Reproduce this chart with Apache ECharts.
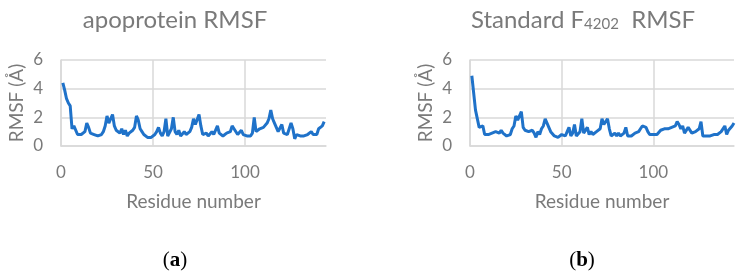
<!DOCTYPE html>
<html>
<head>
<meta charset="utf-8">
<script src="https://cdn.jsdelivr.net/npm/echarts@6/dist/echarts.min.js"></script>
<style>
  html, body { margin: 0; padding: 0; background: #fff; }
  #chart { width: 744px; height: 272px; }
</style>
</head>
<body>
<div id="chart"></div>
<script>
// RMSF per residue
const apoRmsf = [
  4.4, 3.9, 3.3, 3.0, 2.8, 1.2, 1.4, 1.4, 0.8, 0.9,
  0.8, 0.8, 1.0, 1.6, 1.3, 0.9, 1.0, 0.8, 0.7, 0.7,
  0.7, 0.8, 1.0, 1.4, 2.1, 1.6, 1.5, 2.2, 1.4, 1.1,
  1.0, 0.9, 1.2, 0.8, 1.1, 0.7, 0.9, 0.8, 1.1, 1.3,
  2.1, 1.8, 1.2, 1.0, 0.8, 0.7, 0.6, 0.5, 0.6, 0.7,
  0.8, 1.0, 1.3, 0.9, 0.7, 1.0, 1.9, 0.7, 0.7, 1.2,
  2.0, 1.0, 0.8, 1.1, 0.7, 0.8, 1.0, 0.8, 0.9, 1.0,
  1.3, 1.9, 1.5, 1.6, 2.2, 1.4, 0.8, 0.7, 0.9, 0.7,
  0.7, 1.0, 0.8, 0.7, 1.4, 0.9, 0.8, 0.7, 0.8, 0.9,
  0.9, 1.0, 1.4, 1.2, 1.2, 0.8, 0.7, 1.1, 0.8, 0.7,
  0.7, 0.8, 0.7, 0.9, 2.0, 1.0, 1.0, 1.2, 1.1, 1.3,
  1.4, 1.6, 1.9, 2.5, 1.9, 1.6, 1.5, 1.0, 1.1, 1.5,
  0.9, 1.0, 0.8, 1.2, 1.6, 1.2, 0.5, 0.8, 0.7, 0.7,
  0.7, 0.7, 0.8, 0.8, 0.9, 1.0, 0.8, 0.9, 0.8, 1.2,
  1.2, 1.4, 1.7
]

const stdRmsf = [
  4.9, 4.8, 2.5, 2.4, 1.3, 1.4, 1.4, 0.8, 0.9, 0.8,
  0.8, 0.9, 1.0, 1.0, 0.9, 0.9, 1.1, 0.9, 0.8, 0.7,
  0.7, 0.8, 1.2, 1.4, 2.1, 1.8, 1.7, 2.4, 1.3, 1.1,
  1.0, 1.0, 0.9, 1.1, 0.9, 0.6, 1.0, 0.8, 1.2, 1.4,
  1.9, 1.8, 1.3, 1.0, 0.9, 0.7, 0.7, 0.6, 0.5, 0.8,
  0.8, 0.7, 1.0, 1.3, 0.7, 0.9, 1.5, 0.7, 0.8, 1.0,
  1.9, 0.9, 1.0, 1.3, 0.8, 1.0, 0.8, 0.9, 1.0, 1.0,
  1.2, 1.9, 1.5, 1.6, 1.9, 1.2, 0.7, 0.8, 0.9, 0.7,
  0.9, 0.7, 0.8, 0.9, 1.3, 0.7, 0.8, 0.7, 0.8, 0.9,
  0.9, 1.0, 1.2, 1.4, 1.4, 1.3, 1.0, 0.8, 0.7, 0.8,
  0.7, 0.8, 0.9, 1.1, 1.1, 1.2, 1.1, 1.2, 1.3, 1.3,
  1.4, 1.4, 1.7, 1.5, 1.2, 1.4, 0.9, 1.0, 1.3, 1.4,
  0.9, 1.0, 1.0, 1.1, 1.2, 1.7, 0.7, 0.6, 0.7, 0.7,
  0.7, 0.7, 0.8, 0.7, 0.8, 0.9, 1.0, 1.1, 1.4, 0.8,
  1.1, 1.2, 1.4, 1.6
]

const xTickStep = 50
const yTicks = [0, 2, 4, 6]

const toPoints = arr => arr.map((v, i) => [i + 1, v])

const gray = "#7a7a7a"
const gridGray = "#d9d9d9"
const lineBlue = "#1f72c9"
const font = "Lato"

function xAxis(idx) {
  return {
    type: "value",
    gridIndex: idx,
    min: 0,
    max: 144,
    interval: xTickStep,
    name: "Residue number",
    nameLocation: "middle",
    nameGap: 46,
    nameTextStyle: { color: gray, fontSize: 19, fontFamily: font },
    axisLine: { show: true, lineStyle: { color: gridGray, width: 1.5 } },
    axisTick: { show: false },
    axisLabel: { color: gray, fontSize: 17, fontFamily: font, margin: 18, showMaxLabel: false },
    splitLine: { show: true, showMaxLine: false, lineStyle: { color: gridGray, width: 1.5 } }
  }
}

function yAxis(idx) {
  return {
    type: "value",
    gridIndex: idx,
    min: yTicks[0],
    max: yTicks[yTicks.length - 1],
    interval: 2,
    name: "RMSF (Å)",
    nameLocation: "middle",
    nameGap: 35,
    nameTextStyle: { color: gray, fontSize: 19, fontFamily: font },
    axisLine: { show: true, lineStyle: { color: gridGray, width: 1.5 } },
    axisTick: { show: false },
    axisLabel: { color: gray, fontSize: 17, fontFamily: font, margin: 18 },
    splitLine: { show: true, lineStyle: { color: gridGray, width: 1.5 } }
  }
}

const chart = echarts.init(document.getElementById("chart"), null, { renderer: "canvas" })

chart.setOption({
  backgroundColor: "#fff",
  animation: false,
  title: [
    {
      text: "apoprotein RMSF",
      left: 170, top: 3, textAlign: "center",
      textStyle: { color: gray, fontSize: 24, fontWeight: "normal", fontFamily: font }
    },
    {
      text: "Standard F{sub|4202}  RMSF",
      left: 578, top: 3, textAlign: "center",
      textStyle: {
        color: gray, fontSize: 24, fontWeight: "normal", fontFamily: font,
        rich: { sub: { fontSize: 15, color: gray, fontFamily: font, padding: [9, 0, 0, 0] } }
      }
    },
    {
      text: "({b|a})",
      left: 170, top: 245, textAlign: "center",
      textStyle: {
        color: "#000", fontSize: 21, fontWeight: "normal", fontFamily: "Liberation Serif",
        rich: { b: { fontSize: 21, fontWeight: "bold", fontFamily: "Liberation Serif", color: "#000" } }
      }
    },
    {
      text: "({b|b})",
      left: 577, top: 245, textAlign: "center",
      textStyle: {
        color: "#000", fontSize: 21, fontWeight: "normal", fontFamily: "Liberation Serif",
        rich: { b: { fontSize: 21, fontWeight: "bold", fontFamily: "Liberation Serif", color: "#000" } }
      }
    }
  ],
  grid: [
    { left: 61, top: 60, width: 265, height: 86 },
    { left: 470, top: 60, width: 264, height: 86 }
  ],
  xAxis: [xAxis(0), xAxis(1)],
  yAxis: [yAxis(0), yAxis(1)],
  series: [
    {
      type: "line",
      name: "apoprotein",
      xAxisIndex: 0,
      yAxisIndex: 0,
      data: toPoints(apoRmsf),
      showSymbol: false,
      lineStyle: { color: lineBlue, width: 3 }
    },
    {
      type: "line",
      name: "Standard",
      xAxisIndex: 1,
      yAxisIndex: 1,
      data: toPoints(stdRmsf),
      showSymbol: false,
      lineStyle: { color: lineBlue, width: 3 }
    }
  ]
})
</script>
</body>
</html>
